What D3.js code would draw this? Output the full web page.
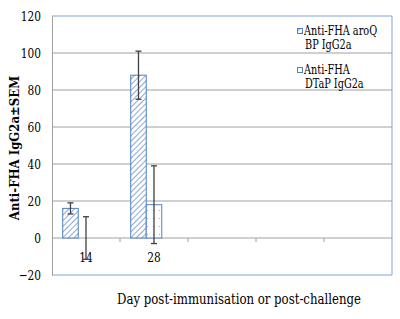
<!DOCTYPE html>
<html><head><meta charset="utf-8">
<script src="https://cdn.jsdelivr.net/npm/d3@7"></script>
<style>body{margin:0;background:#fff}svg{display:block}text{font-family:"DejaVu Serif Condensed","DejaVu Serif",serif;fill:#000}</style>
</head><body>
<svg id="c" width="400" height="319"></svg>
<script>
const categories = ["14", "28", "", " ", "  "];
const seriesNames = ["Anti-FHA aroQ BP IgG2a", "Anti-FHA DTaP IgG2a", "hidden"];
const legendLines = [["Anti-FHA aroQ", "BP IgG2a"], ["Anti-FHA", "DTaP IgG2a"]];
const aroqValues = [16, 88, null, null, null];
const aroqErrors = [3, 13, null, null, null];
const dtapValues = [0, 18, null, null, null];
const dtapErrors = [11.5, 21, null, null, null];
const yTicks = [-20, 0, 20, 40, 60, 80, 100, 120];

const svg = d3.select("#c");
const M = {l: 52, r: 392, t: 16, b: 275};
const y = d3.scaleLinear().domain([-20, 120]).range([M.b, M.t]);
const x = d3.scaleBand().domain(categories).range([M.l, M.r]).paddingInner(0).paddingOuter(0);
const inner = d3.scaleBand().domain([0,1,2]).range([0, x.bandwidth()]).paddingOuter(0.69).paddingInner(0);

const defs = svg.append("defs");
const p1 = defs.append("pattern").attr("id","hatch").attr("patternUnits","userSpaceOnUse").attr("width",4).attr("height",4).attr("patternTransform","rotate(45)");
p1.append("rect").attr("width",4).attr("height",4).attr("fill","#fff");
p1.append("line").attr("x1",0).attr("y1",0).attr("x2",0).attr("y2",4).attr("stroke","#6d93cf").attr("stroke-width",1.6);
const p2 = defs.append("pattern").attr("id","dots").attr("patternUnits","userSpaceOnUse").attr("width",6).attr("height",8);
p2.append("rect").attr("width",6).attr("height",8).attr("fill","#fff");
p2.append("rect").attr("x",3).attr("y",2).attr("width",1).attr("height",1).attr("fill","#8fb0dd");

// gridlines
svg.append("g").selectAll("line").data(yTicks.filter(d => d !== -20 && d !== 120 && d !== 0)).join("line")
  .attr("x1", M.l).attr("x2", M.r).attr("y1", d => y(d)).attr("y2", d => y(d))
  .attr("stroke", "#a0a0a0").attr("stroke-width", 1);
// border lines
svg.append("line").attr("x1",M.l).attr("x2",M.r).attr("y1",y(120)).attr("y2",y(120)).attr("stroke","#7fa5d8");
svg.append("line").attr("x1",M.l).attr("x2",M.r).attr("y1",y(-20)).attr("y2",y(-20)).attr("stroke","#7fa5d8");
svg.append("line").attr("x1",M.r).attr("x2",M.r).attr("y1",y(120)).attr("y2",y(-20)).attr("stroke","#7fa5d8");

// y axis
const yAxis = svg.append("g").attr("transform", `translate(${M.l},0)`)
  .call(d3.axisLeft(y).tickValues(yTicks).tickSize(0).tickPadding(10));
yAxis.attr("font-family", null);
yAxis.select(".domain").attr("stroke","#a0a0a0");
yAxis.selectAll("text").style("font-size","13.5px").attr("dy","0.35em")
  .attr("transform", "translate(-11,0) scale(0.87,1)").attr("x", 0);

// zero axis with ticks
svg.append("line").attr("x1",M.l).attr("x2",M.r).attr("y1",y(0)).attr("y2",y(0)).attr("stroke","#a0a0a0");
svg.append("g").selectAll("line").data(categories.slice(1)).join("line")
  .attr("x1", d => x(d)).attr("x2", d => x(d)).attr("y1", y(0)).attr("y2", y(0)+4).attr("stroke","#a0a0a0");

// bars
function bars(vals, idx, fill) {
  svg.append("g").selectAll("rect").data(vals.map((v,i)=>({v,c:categories[i]})).filter(d=>d.v!==null && d.v>0)).join("rect")
    .attr("x", d => x(d.c) + inner(idx)).attr("width", inner.bandwidth())
    .attr("y", d => y(d.v)).attr("height", d => y(0) - y(d.v))
    .attr("fill", fill).attr("stroke", "#4f81bd").attr("stroke-width", 1);
}
bars(aroqValues, 0, "url(#hatch)");
bars(dtapValues, 1, "url(#dots)");

// x labels
svg.append("g").selectAll("text").data(categories.slice(0,2)).join("text")
  .attr("transform", d => `translate(${x(d) + x.bandwidth()/2},262) scale(0.87,1)`).attr("text-anchor","middle")
  .style("font-size","13.5px").text(d => d);

// error bars
function errs(vals, es, idx) {
  const d = vals.map((v,i)=>({v,e:es[i],c:categories[i]})).filter(d=>d.v!==null);
  const g = svg.append("g").attr("stroke","#404040").attr("stroke-width",1.3);
  d.forEach(o => {
    const cx = x(o.c) + inner(idx) + inner.bandwidth()/2;
    g.append("line").attr("x1",cx).attr("x2",cx).attr("y1",y(o.v+o.e)).attr("y2",y(o.v-o.e));
    g.append("line").attr("x1",cx-3).attr("x2",cx+3).attr("y1",y(o.v+o.e)).attr("y2",y(o.v+o.e));
    g.append("line").attr("x1",cx-3).attr("x2",cx+3).attr("y1",y(o.v-o.e)).attr("y2",y(o.v-o.e));
  });
}
errs(aroqValues, aroqErrors, 0);
errs(dtapValues, dtapErrors, 1);

// legend
const lg = svg.append("g");
const fills = ["url(#hatch)", "url(#dots)"];
legendLines.forEach((lines, i) => {
  const y0 = 35 + i*39;
  lg.append("rect").attr("x",297.5).attr("y",y0-6.5).attr("width",5).attr("height",5)
    .attr("fill", fills[i]).attr("stroke","#4f81bd");
  lines.forEach((t, j) => {
    lg.append("text").attr("transform", `translate(${j===0 ? 304 : 305},${y0 + j*14}) scale(0.8,1)`)
      .style("font-size","13.5px").text(t);
  });
});

// axis titles
svg.append("text").attr("transform","translate(239,304) scale(0.9,1)").attr("text-anchor","middle").style("font-size","14.5px")
  .text("Day post-immunisation or post-challenge");
svg.append("text").attr("transform","translate(19,148) rotate(-90)").attr("text-anchor","middle")
  .style("font-size","13px").style("font-weight","bold").text("Anti-FHA IgG2a±SEM");
</script>
</body></html>
